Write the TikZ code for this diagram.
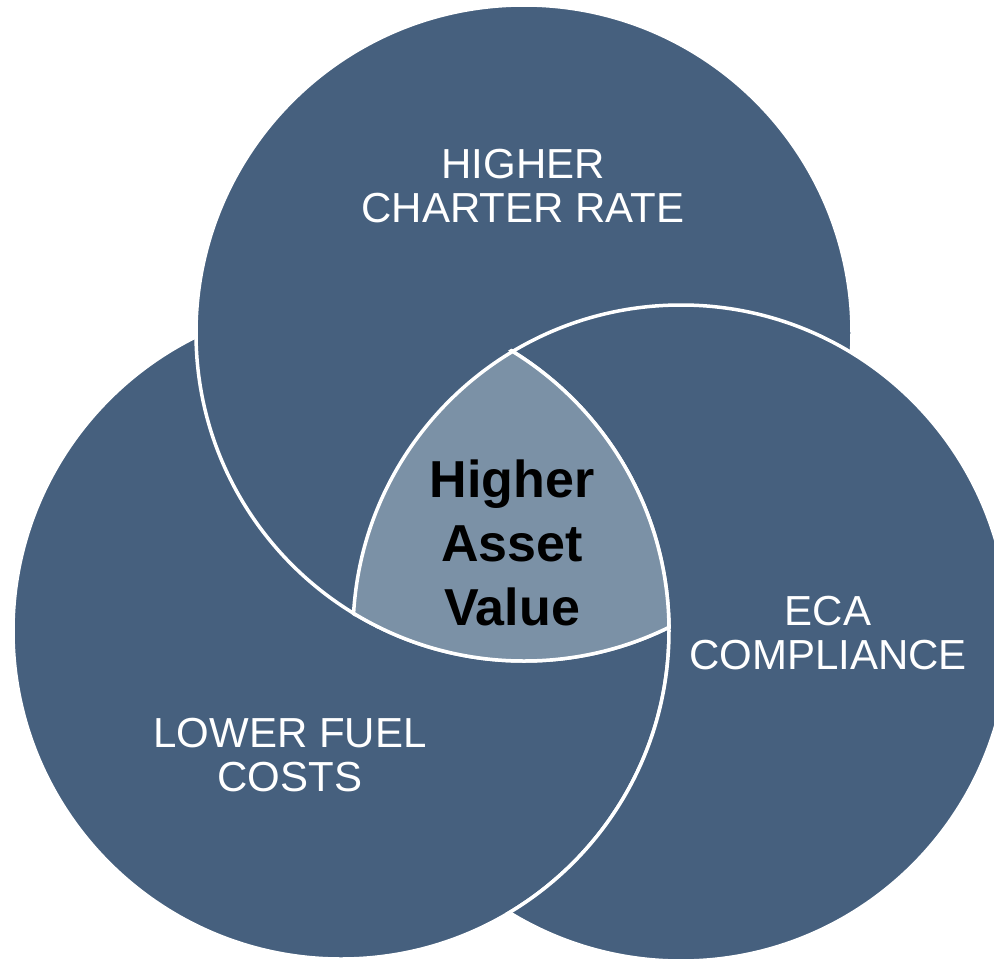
\documentclass[tikz,border=0pt]{standalone}
\usepackage{fontspec}
\setmainfont{Liberation Sans}
\definecolor{vennblue}{HTML}{46607E}
\definecolor{vennlight}{HTML}{7B91A6}
\begin{document}
\begin{tikzpicture}[x=1pt,y=-1pt,
  venn/.style={fill=vennblue,draw=white,line width=3.5pt},
  rim/.style={draw=white,line width=3.5pt},
  setlabel/.style={text=white,align=center,font=\fontsize{42}{44}\selectfont,anchor=base,inner sep=0pt},
  corelabel/.style={text=black,align=center,font=\bfseries\fontsize{52}{64}\selectfont,anchor=base,inner sep=0pt}]
\useasboundingbox (0,0) rectangle (994,959);
\clip (0,0) rectangle (994,959);
\def\R{328}
\coordinate (ct) at (524,333);
\coordinate (cl) at (341,631);
\coordinate (cr) at (681,633);
% three sets, each overlapping the next
\path[venn] (cl) circle[radius=\R];
\path[venn] (ct) circle[radius=\R];
% the right set goes over the top one but under the left one
\begin{scope}[even odd rule]
  \path[clip] (0,0) rectangle (994,959) (cl) circle[radius=\R];
  \path[venn] (cr) circle[radius=\R];
\end{scope}
\begin{scope}
  \clip (cr) circle[radius=\R+3];
  \path[rim] (cl) circle[radius=\R];
\end{scope}
% common part of all three sets
\begin{scope}
  \clip (ct) circle[radius=\R];
  \clip (cl) circle[radius=\R];
  \fill[vennlight] (cr) circle[radius=\R];
\end{scope}
\begin{scope}
  \clip (cl) circle[radius=\R+2];
  \clip (cr) circle[radius=\R+2];
  \path[rim] (ct) circle[radius=\R];
\end{scope}
\begin{scope}
  \clip (ct) circle[radius=\R+2];
  \clip (cr) circle[radius=\R+2];
  \path[rim] (cl) circle[radius=\R];
\end{scope}
\begin{scope}
  \clip (ct) circle[radius=\R+2];
  \clip (cl) circle[radius=\R+2];
  \path[rim] (cr) circle[radius=\R];
\end{scope}
% labels (anchored at the baseline of the last line)
\node[setlabel] (charter) at (523,222) {HIGHER\\CHARTER RATE};
\node[setlabel] (eca) at (828,669) {ECA\\COMPLIANCE};
\node[setlabel] (fuel) at (290,791) {LOWER FUEL\\COSTS};
\node[corelabel] (asset) at (512,625) {Higher\\Asset\\Value};
\end{tikzpicture}
\end{document}
